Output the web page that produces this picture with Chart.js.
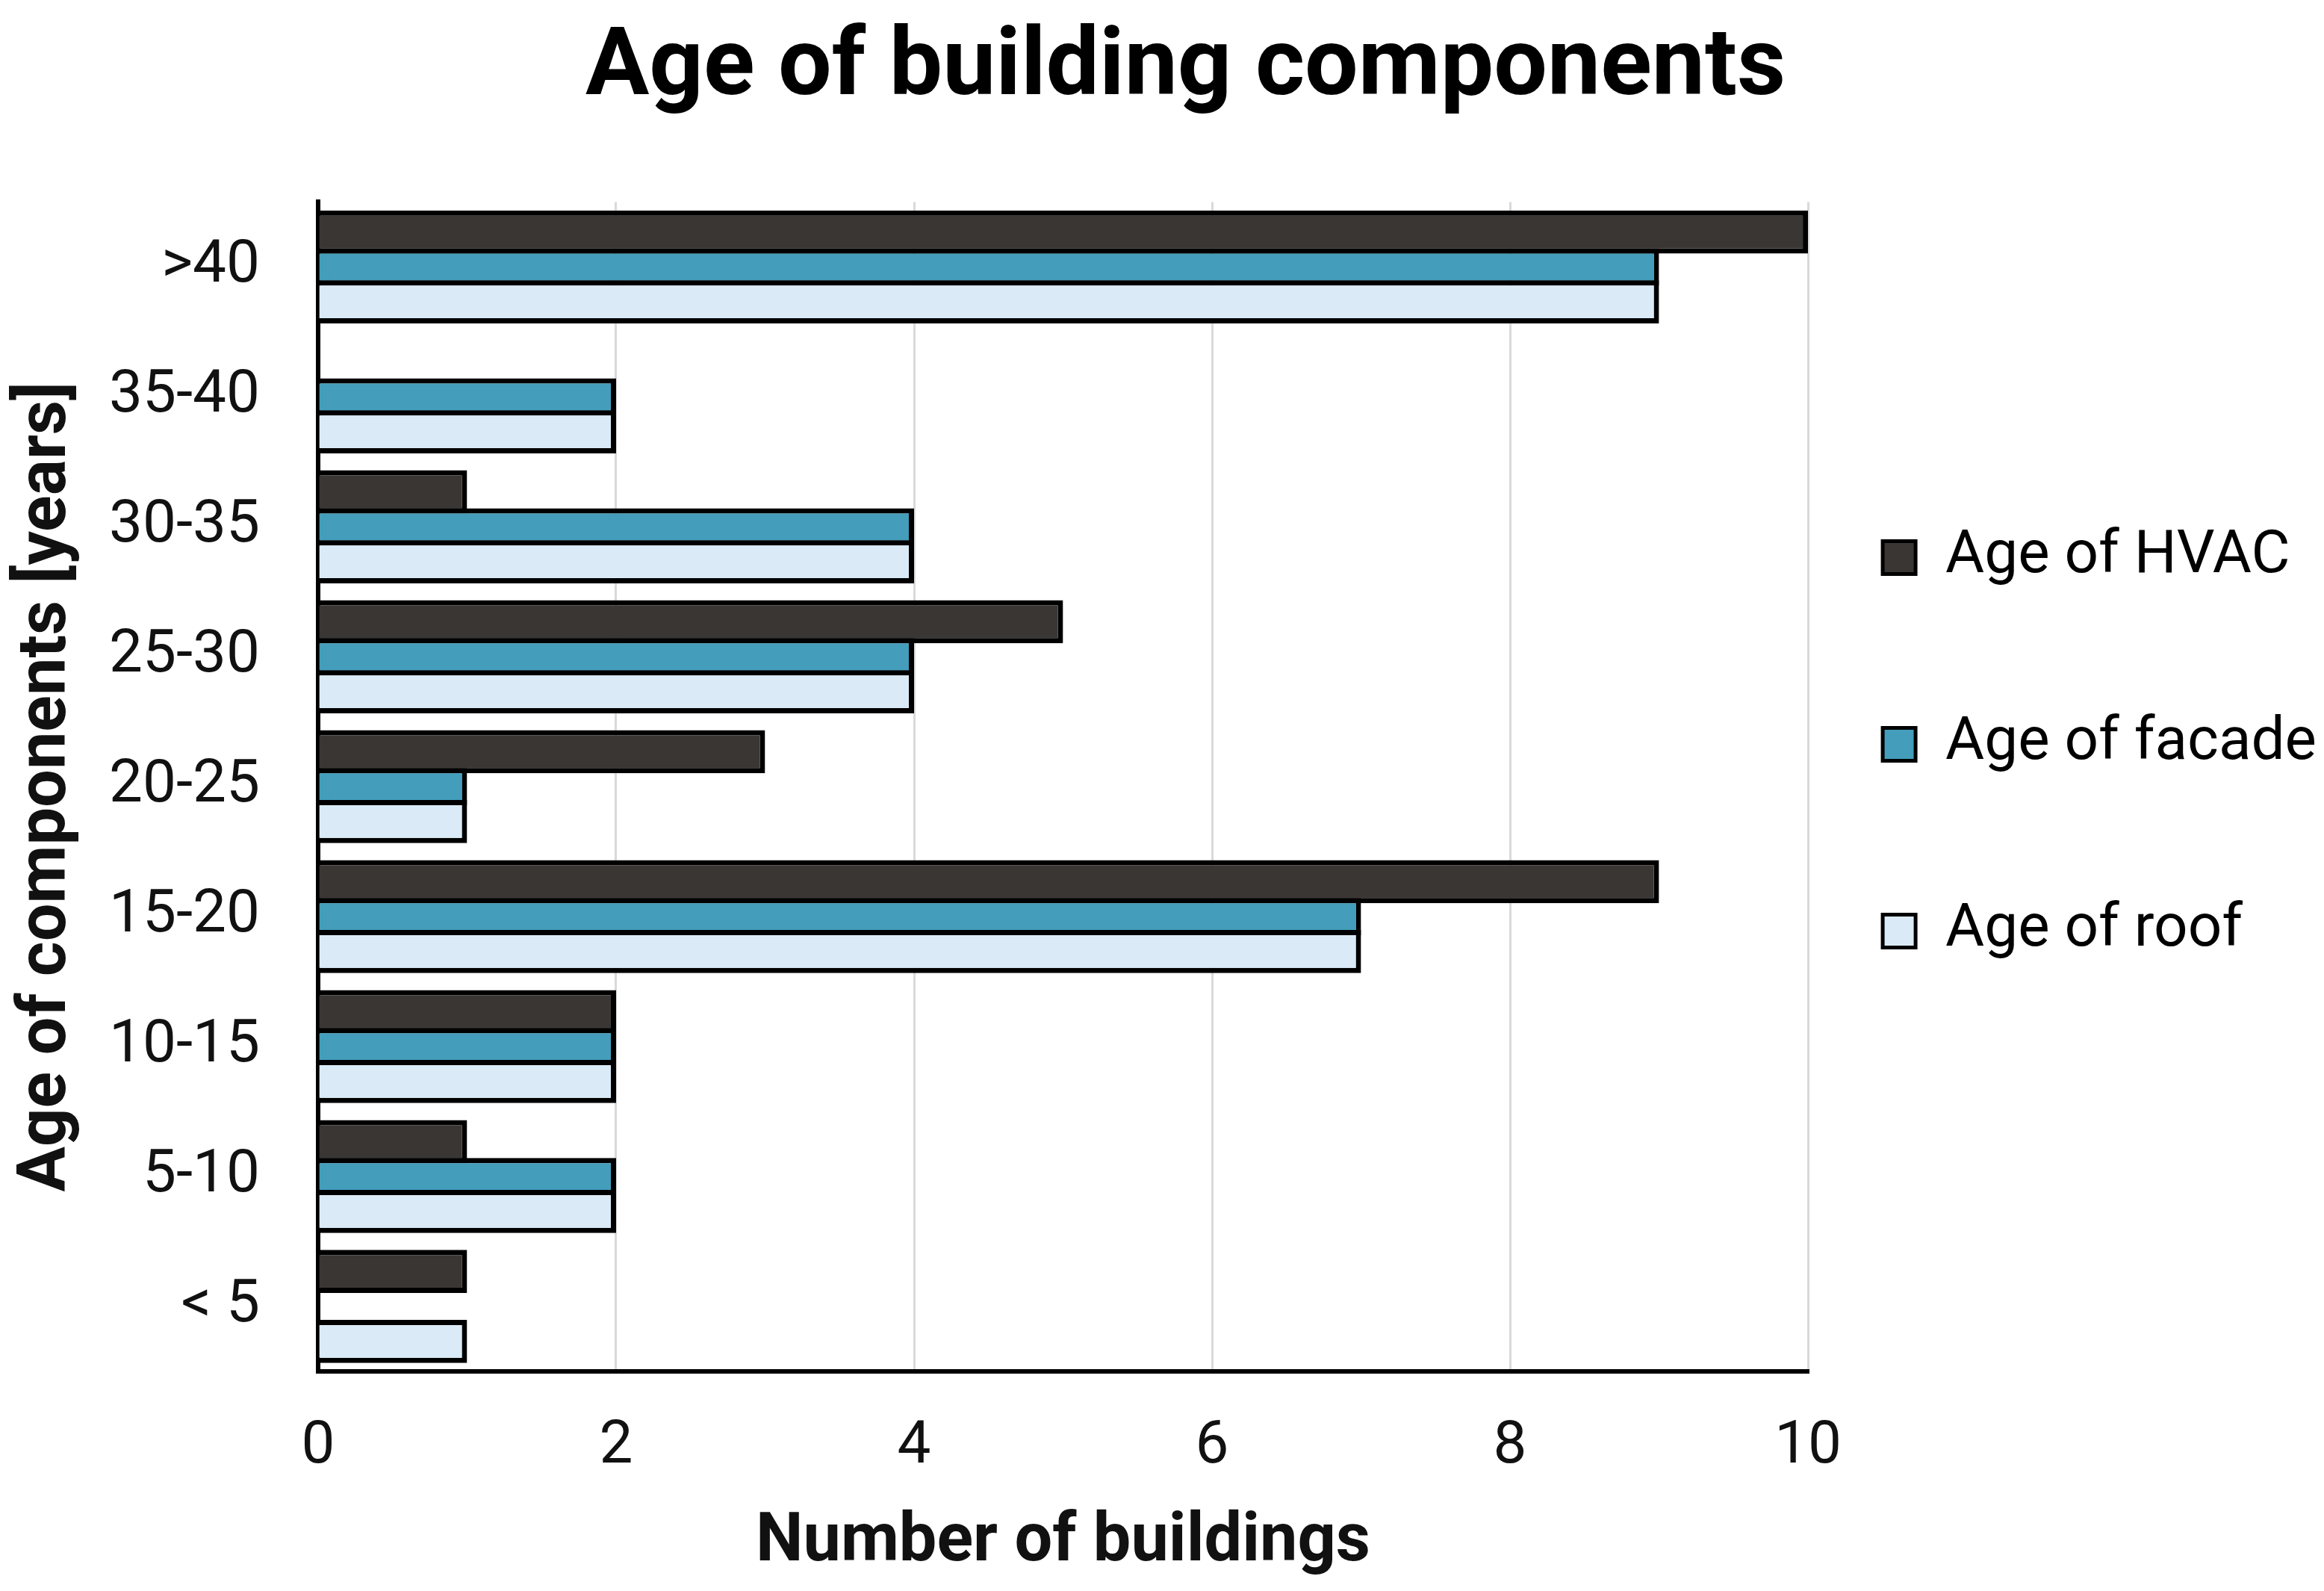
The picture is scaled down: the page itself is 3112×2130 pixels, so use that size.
<!DOCTYPE html>
<html lang="en">
<head>
    <meta charset="UTF-8">
    <title>Age of building components</title>
    <script src="https://cdn.jsdelivr.net/npm/chart.js"></script>
    <style>
        html, body { margin: 0; padding: 0; background: #ffffff; }
        #wrap { width: 3112px; height: 2130px; }
    </style>
</head>
<body>
    <div id="wrap"><canvas id="ageChart" width="3112" height="2130"></canvas></div>

    <script>
        // categories, top to bottom
        const ageGroups = ['>40', '35-40', '30-35', '25-30', '20-25', '15-20', '10-15', '5-10', '< 5'];

        const seriesNames = ['Age of HVAC', 'Age of facade', 'Age of roof'];
        const hvacCounts   = [10, 0, 1, 5, 3, 9, 2, 1, 1];
        const facadeCounts = [9, 2, 4, 4, 1, 7, 2, 2, 0];
        const roofCounts   = [9, 2, 4, 4, 1, 7, 2, 2, 1];

        const xTicks = [0, 2, 4, 6, 8, 10];

        const colors = ['#3a3634', '#439dbb', '#daebf7'];
        // bars overlap a little so neighbours share one border
        const barPct = [1.234, 1.064, 1.234];

        const makeSet = (i, values) => ({
            label: seriesNames[i],
            data: values,
            backgroundColor: colors[i],
            borderColor: '#000000',
            borderWidth: 7,
            categoryPercentage: 0.807,
            barPercentage: barPct[i]
        });

        const ctx = document.getElementById('ageChart').getContext('2d');
        new Chart(ctx, {
            type: 'bar',
            data: {
                labels: ageGroups,
                datasets: [
                    makeSet(0, hvacCounts),
                    makeSet(1, facadeCounts),
                    makeSet(2, roofCounts)
                ]
            },
            options: {
                indexAxis: 'y',
                responsive: false,
                animation: false,
                devicePixelRatio: 1,
                layout: { padding: 0 },
                plugins: {
                    title: {
                        display: true,
                        // two leading spaces nudge the centred title a bit to the right
                        text: '  Age of building components',
                        color: '#000000',
                        font: { family: 'Roboto', size: 127, weight: 'bold', lineHeight: 1.2 },
                        padding: { top: 18, bottom: 100 }
                    },
                    legend: {
                        position: 'right',
                        align: 'start',
                        fullSize: false,
                        title: {
                            display: true,
                            text: '',
                            font: { size: 1, lineHeight: 1 },
                            padding: { top: 335, bottom: 0 }
                        },
                        labels: {
                            color: '#000000',
                            font: { family: 'Roboto', size: 80, lineHeight: 1.875 },
                            boxWidth: 44,
                            boxHeight: 44,
                            padding: 100,
                            generateLabels(chart) {
                                const items = Chart.defaults.plugins.legend.labels.generateLabels(chart);
                                return items.map(it => Object.assign(it, { text: [it.text], lineWidth: 5 }));
                            }
                        }
                    },
                    tooltip: { enabled: false }
                },
                scales: {
                    x: {
                        min: 0,
                        max: 10,
                        afterBuildTicks(axis) {
                            axis.ticks = xTicks.map(v => ({ value: v }));
                        },
                        grid: {
                            color: '#d9d9d9',
                            lineWidth: 3,
                            drawTicks: false
                        },
                        border: { display: true, color: '#000000', width: 6 },
                        ticks: {
                            color: '#111111',
                            padding: 54,
                            font: { family: 'Roboto', size: 80 }
                        },
                        title: {
                            display: true,
                            text: 'Number of buildings',
                            color: '#111111',
                            font: { family: 'Roboto', size: 90, weight: 'bold' },
                            padding: { top: -28, bottom: 10 }
                        }
                    },
                    y: {
                        grid: { display: false, drawTicks: false },
                        border: { display: true, color: '#000000', width: 6 },
                        ticks: {
                            color: '#111111',
                            padding: 78,
                            font: { family: 'Roboto', size: 80 }
                        },
                        title: {
                            display: true,
                            text: 'Age of components [years]',
                            color: '#111111',
                            font: { family: 'Roboto', size: 90, weight: 'bold' },
                            padding: { top: 10, bottom: -50 }
                        }
                    }
                }
            }
        });
    </script>
</body>
</html>
